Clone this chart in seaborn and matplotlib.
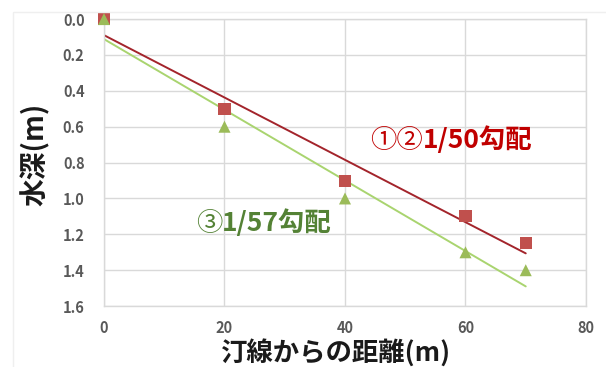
import numpy as np
import pandas as pd
import seaborn as sns
import matplotlib.pyplot as plt
from matplotlib.patches import Rectangle

# Survey points: distance from shoreline (m) and water depth (m)
distance = [0, 20, 40, 60, 70]
depth_12 = [0.0, 0.5, 0.9, 1.1, 1.25]   # lines ① ②
depth_3 = [0.0, 0.6, 1.0, 1.3, 1.4]     # line ③

x_ticks = [0, 20, 40, 60, 80]
y_ticks = [0.0, 0.2, 0.4, 0.6, 0.8, 1.0, 1.2, 1.4, 1.6]

label_12 = ("①②", "1/50勾配")
label_3 = ("③", "1/57勾配")
x_label = "汀線からの距離(m)"
y_label = "水深(m)"

sns.set_theme(style="white")
plt.rcParams["font.family"] = ["Noto Sans CJK JP", "DejaVu Sans"]

df = pd.DataFrame({
    "distance": distance * 2,
    "depth": depth_12 + depth_3,
    "series": ["12"] * len(distance) + ["3"] * len(distance),
})

fig = plt.figure(figsize=(6.06, 3.67), dpi=100)
# faint chart-area frame
fig.patches.append(Rectangle((13 / 606, -0.01), 1.0, 1 - 12 / 367 + 0.01,
                             transform=fig.transFigure, fill=False,
                             edgecolor="#EFEFEF", lw=1))
ax = fig.add_axes([0.1716, 0.166, 0.7954, 0.782])

red_marker = "#C0504D"
green_marker = "#9BBB59"
red_line = "#A3242B"
green_line = "#A9D46F"

# Linear trend lines over the measured span
xs = np.array([min(distance), max(distance)])
for vals, col in [(depth_12, red_line), (depth_3, green_line)]:
    k, b = np.polyfit(distance, vals, 1)
    ax.plot(xs, k * xs + b, color=col, lw=1.4, zorder=2)

sns.scatterplot(data=df, x="distance", y="depth", hue="series", style="series",
                markers={"12": "s", "3": "^"},
                palette={"12": red_marker, "3": green_marker},
                s=75, linewidth=0, legend=False, ax=ax, zorder=3,
                clip_on=False)

ax.set_xlim(0, 80)
ax.set_ylim(1.6, 0.0)
ax.set_xticks(x_ticks)
ax.set_yticks(y_ticks)
ax.set_yticklabels([f"{v:.1f}" for v in y_ticks])
ax.grid(True, color="#D9D9D9", lw=1)
for sp in ax.spines.values():
    sp.set_color("#D9D9D9")
    sp.set_linewidth(1)
ax.tick_params(axis="both", length=0, labelsize=10.5, labelcolor="#595959")
ax.tick_params(axis="x", pad=10)
ax.tick_params(axis="y", pad=14)
for t in ax.get_xticklabels() + ax.get_yticklabels():
    t.set_fontweight("bold")

ax.set_xlabel("")
ax.set_ylabel("")
fig.text(0.554, 0.038, x_label, ha="center", va="center", fontsize=19,
         fontweight="bold", color="#1A1A1A")
fig.text(0.058, 0.58, y_label, ha="center", va="center", rotation=90,
         fontsize=20, fontweight="bold", color="#1A1A1A")

# Slope annotations: thin circled numerals followed by bold ratio text
for (circ, rest), (xa, ya), col in [(label_12, (52.9, 0.675), "#C00000"),
                                    (label_3, (19.6, 1.137), "#548235")]:
    ax.text(xa, ya, circ, ha="right", va="center", fontsize=19,
            fontweight="normal", color=col)
    ax.text(xa, ya, rest, ha="left", va="center", fontsize=19,
            fontweight="bold", color=col)

fig.savefig("out.png", dpi=100)
